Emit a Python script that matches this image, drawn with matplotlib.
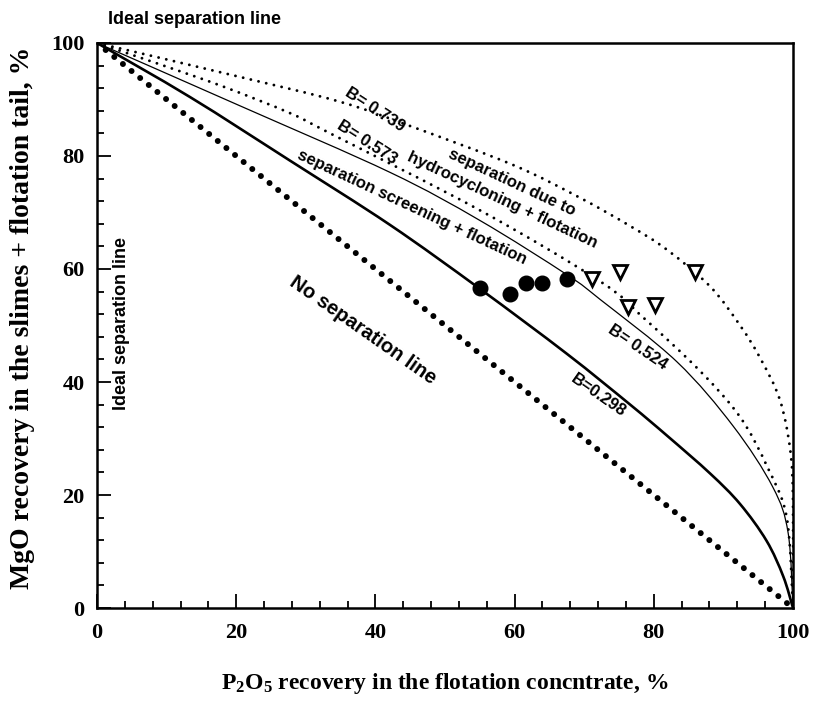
import matplotlib
matplotlib.use("Agg")
import matplotlib.pyplot as plt
from matplotlib.ticker import MultipleLocator
from matplotlib.path import Path
from matplotlib.patches import PathPatch

plt.rcParams['mathtext.fontset'] = 'custom'
plt.rcParams['mathtext.rm'] = 'Liberation Serif:bold'
plt.rcParams['mathtext.it'] = 'Liberation Serif:bold'
plt.rcParams['mathtext.bf'] = 'Liberation Serif:bold'

# ---- data ----
no_sep_x = [0, 100]
no_sep_y = [100, 0]

b298_x = [0, 13.4, 27.7, 42.1, 55, 67.5, 76.6, 82, 88.1, 92.4, 96.2, 98.6, 100]
b298_y = [100, 90.4, 79.2, 67.8, 56.5, 45.0, 36.0, 30.4, 23.8, 18.4, 11.9, 5.6, 0]

b524_x = [0, 20.5, 42.1, 55, 67.5, 72.3, 83.3, 91.4, 97.1, 99.3, 100]
b524_y = [100, 88.9, 77.1, 68.6, 59.0, 54.6, 43.6, 32.2, 21.4, 13.3, 0]

b573_x = [0, 8.6, 18.1, 27.7, 33.5, 55, 72.3, 78.4, 86.6, 92.4, 96.3, 99.1, 100]
b573_y = [100, 96.4, 92.3, 87.6, 84.0, 70.4, 57.8, 51.5, 42.0, 33.8, 25.0, 16.0, 0]

b739_x = [0, 20.5, 34.9, 45, 59.8, 69.4, 76.6, 81.9, 88.1, 92.4, 95.3, 98.1, 99.6, 100, 100]
b739_y = [100, 94.0, 89.6, 85.3, 78.4, 72.6, 67.6, 63.4, 56.9, 50.0, 44.2, 36.9, 28.0, 19.0, 0]

circ_x = [55.0, 59.3, 61.7, 64.0, 67.5]
circ_y = [56.7, 55.5, 57.6, 57.6, 58.2]

tri_x = [71.1, 75.2, 76.3, 80.2, 85.9]
tri_y = [58.2, 59.4, 53.2, 53.6, 59.5]


def smooth_path(xs, ys):
    """Bezier path through the read points (Catmull-Rom style control handles)."""
    pts = list(zip(xs, ys))
    n = len(pts)
    verts = [pts[0]]
    codes = [Path.MOVETO]
    for i in range(n - 1):
        p0 = pts[i - 1] if i > 0 else pts[i]
        p1 = pts[i]
        p2 = pts[i + 1]
        p3 = pts[i + 2] if i + 2 < n else pts[i + 1]
        c1 = (p1[0] + (p2[0] - p0[0]) / 6.0, p1[1] + (p2[1] - p0[1]) / 6.0)
        c2 = (p2[0] - (p3[0] - p1[0]) / 6.0, p2[1] - (p3[1] - p1[1]) / 6.0)
        verts += [c1, c2, p2]
        codes += [Path.CURVE4] * 3
    return Path(verts, codes)


fig = plt.figure(figsize=(8.14, 7.08), dpi=100)
ax = fig.add_axes([0.1192, 0.1412, 0.855, 0.7981])

ax.plot(no_sep_x, no_sep_y, color='black', lw=4.3, linestyle=(0, (0.01, 1.85)),
        dash_capstyle='round')

dotted = (0, (0.01, 2.7))
for xs, ys, lw, ls in [(b298_x, b298_y, 1.9, 'solid'),
                       (b524_x, b524_y, 0.9, 'solid'),
                       (b573_x, b573_y, 2.1, dotted),
                       (b739_x, b739_y, 2.1, dotted)]:
    patch = PathPatch(smooth_path(xs, ys), facecolor='none', edgecolor='black',
                      lw=lw, linestyle=ls, capstyle='round')
    ax.add_patch(patch)

ax.plot(circ_x, circ_y, 'o', color='black', markersize=10.5, linestyle='none')
ax.plot(tri_x, tri_y, 'v', markerfacecolor='white', markeredgecolor='black',
        markeredgewidth=2.0, markersize=9.5, linestyle='none')

ax.set_xlim(0, 100)
ax.set_ylim(0, 100)
ax.xaxis.set_major_locator(MultipleLocator(20))
ax.xaxis.set_minor_locator(MultipleLocator(4))
ax.yaxis.set_major_locator(MultipleLocator(20))
ax.yaxis.set_minor_locator(MultipleLocator(4))
ax.tick_params(which='both', direction='in', top=False, right=False, width=1.3)
ax.tick_params(which='major', length=10, labelsize=16)
ax.tick_params(axis='x', which='major', pad=11)
ax.tick_params(axis='y', which='major', pad=9)
ax.tick_params(which='minor', length=5)
for lab in ax.get_xticklabels() + ax.get_yticklabels():
    lab.set_fontfamily('Liberation Serif')
    lab.set_fontweight('bold')
for s in ax.spines.values():
    s.set_linewidth(1.8)

ax.set_xlabel(r'P$_2$O$_5$ recovery in the flotation concntrate, %',
              fontfamily='Liberation Serif', fontweight='bold', fontsize=17, labelpad=20)
ax.set_ylabel('MgO recovery in the slimes + flotation tail, %',
              fontfamily='Liberation Serif', fontweight='bold', fontsize=20)
ax.yaxis.set_label_coords(35 / 814, 1 - 318 / 708, transform=fig.transFigure)

lab_font = dict(family=['Liberation Sans Narrow', 'Liberation Sans'], weight='bold',
                color='black', ha='center', va='center')

fig.text(194 / 814, 1 - 20 / 708, 'Ideal separation line', fontsize=13, **lab_font)
fig.text(121 / 814, 1 - 324 / 708, 'Ideal separation line', fontsize=13, rotation=90, **lab_font)


def ftxt(px, py, s, rot, size=12):
    fig.text(px / 814, 1 - py / 708, s, rotation=rot, rotation_mode='anchor',
             fontsize=size, **lab_font)


ftxt(375, 110, 'B= 0.739', -33)
ftxt(367, 142, 'B= 0.573', -32.6)
ftxt(512, 182, 'separation due to', -25)
ftxt(502, 200, 'hydrocycloning + flotation', -25)
ftxt(412, 207, 'separation screening + flotation', -25)
ftxt(363, 330, 'No separation line', -35, size=14.5)
ftxt(638, 347, 'B= 0.524', -34)
ftxt(598, 395, 'B=0.298', -35)

fig.savefig('out.png', dpi=100)
